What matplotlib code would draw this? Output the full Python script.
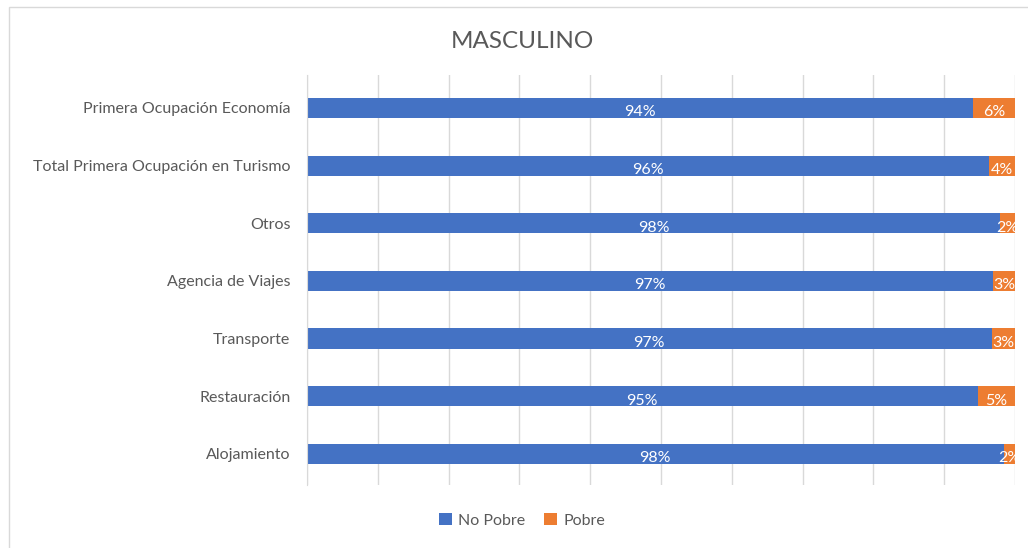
import matplotlib.pyplot as plt
from matplotlib.patches import Rectangle

categorias = ["Alojamiento", "Restauración", "Transporte", "Agencia de Viajes",
              "Otros", "Total Primera Ocupación en Turismo", "Primera Ocupación Economía"]
no_pobre = [0.984, 0.947, 0.967, 0.969, 0.979, 0.963, 0.941]
pobre = [0.016, 0.053, 0.033, 0.031, 0.021, 0.037, 0.059]

azul = "#4472C4"
naranja = "#ED7D31"
gris = "#595959"

plt.rcParams['font.family'] = ['Lato', 'DejaVu Sans']

fig = plt.figure(figsize=(10.28, 5.48), dpi=100)
ax = fig.add_axes([0.2986, 0.115, 0.6888, 0.748])

y = range(len(categorias))
b1 = ax.barh(y, no_pobre, height=0.35, color=azul, label="No Pobre")
b2 = ax.barh(y, pobre, left=no_pobre, height=0.35, color=naranja, label="Pobre")

# etiquetas blancas centradas en cada segmento (un poco bajadas, como en Excel)
for barras, vals in [(b1, no_pobre), (b2, pobre)]:
    for rect, v in zip(barras, vals):
        ax.text(rect.get_x() + rect.get_width() / 2, rect.get_y() + rect.get_height() / 2 - 0.05,
                f"{round(v * 100):.0f}%", color="white", ha="center", va="center_baseline",
                fontsize=11.5)

ax.set_xlim(0, 1)
ax.set_ylim(-0.54, 6.57)
ax.set_xticks([i / 10 for i in range(11)])
ax.set_xticklabels([])
ax.tick_params(axis="x", length=0)
ax.tick_params(axis="y", length=0, pad=12, labelsize=11.5, labelcolor=gris)
ax.set_yticks(list(y))
ax.set_yticklabels(categorias)
ax.grid(axis="x", color="#d9d9d9", linewidth=1)
ax.set_axisbelow(True)
for s in ["top", "right", "bottom"]:
    ax.spines[s].set_visible(False)
ax.spines["left"].set_color("#d9d9d9")

fig.text(0.508, 0.925, "MASCULINO", ha="center", va="center", fontsize=17.5, color=gris)

fig.legend(handles=[b1, b2], loc="center", bbox_to_anchor=(0.508, 0.05), ncol=2,
           frameon=False, fontsize=11.5, labelcolor=gris, handlelength=0.8, handleheight=0.8,
           handletextpad=0.4, columnspacing=1.2)

fig.patches.append(Rectangle((9 / 1028, -0.1), 1.0, 1.1 - 7 / 548, transform=fig.transFigure,
                             fill=False, edgecolor="#d9d9d9", linewidth=1))

fig.savefig("out.png", dpi=100)
